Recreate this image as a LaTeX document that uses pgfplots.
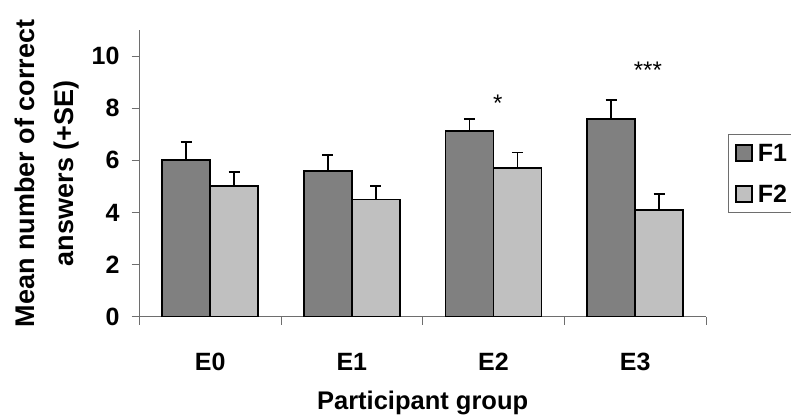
\documentclass[border=0pt]{standalone}
\usepackage{fontspec}
\setmainfont{Liberation Sans}
\usepackage{pgfplots}
\pgfplotsset{compat=1.18}
\definecolor{fone}{RGB}{128,128,128}
\definecolor{ftwo}{RGB}{192,192,192}
\definecolor{axgray}{RGB}{110,110,110}
\newcommand{\bigf}{\bfseries\fontsize{25}{28}\selectfont}
\newcommand{\labf}{\bfseries\fontsize{25.5}{38}\selectfont}
\newcommand{\ylabf}{\bfseries\fontsize{27}{39}\selectfont}
\begin{document}
\begin{tikzpicture}
\begin{axis}[
  scale only axis,
  width=566.7pt, height=286.7pt,
  xmin=-0.5, xmax=3.5, ymin=0, ymax=11,
  axis x line=bottom, axis y line=left,
  axis line style={-, draw=axgray, line width=0.9pt},
  ybar=0pt, bar width=48pt,
  xtick={0,1,2,3}, xticklabels={E0,E1,E2,E3},
  minor xtick={-0.5,0.5,1.5,2.5,3.5},
  ytick={0,2,4,6,8,10},
  tick align=outside,
  major x tick style={draw=none},
  minor x tick style={draw=axgray, line width=0.9pt},
  major y tick style={draw=axgray, line width=0.9pt},
  major tick length=7.6pt, minor tick length=8pt,
  /pgf/number format/assume math mode=true,
  tick label style={font=\bigf},
  xticklabel style={anchor=base, yshift=-46.6pt},
  yticklabel style={anchor=east, inner sep=0pt, xshift=-12pt},
  ylabel={Mean number of correct\\answers (+SE)},
  ylabel style={font=\ylabf, align=center, at={(axis description cs:-0.163,0.5)}, anchor=center, rotate=0},
  xlabel={Participant group},
  xlabel style={font=\labf, at={(axis description cs:0.5,-0.325)}, anchor=base},
  legend style={draw=axgray, line width=0.8pt, at={(1,0.637)}, anchor=north west, xshift=21.7pt,
    font=\bigf, inner xsep=7pt, inner ysep=8pt, row sep=20pt,
    nodes={text height=17pt, text depth=0pt}},
  legend image code/.code={\draw[#1, line width=1.6pt] (0pt,-8pt) rectangle (16pt,8pt); \path[draw=none, fill=none] (0pt,0pt) -- (20pt,0pt);},
  error bars/y dir=plus, error bars/y explicit,
  error bars/error bar style={black, line width=1.8pt},
  error bars/error mark options={black, line width=1.8pt, mark size=5.5pt, rotate=90},
]
\addplot[fill=fone, draw=black, line width=1.8pt] coordinates {
  (0,6.00) +- (0,0.70)
  (1,5.60) +- (0,0.60)
  (2,7.11) +- (0,0.46)
  (3,7.60) +- (0,0.70)
};
\addplot[fill=ftwo, draw=black, line width=1.8pt] coordinates {
  (0,5.00) +- (0,0.56)
  (1,4.50) +- (0,0.50)
  (2,5.70) +- (0,0.60)
  (3,4.09) +- (0,0.61)
};
\legend{F1,F2}
\node[font=\fontsize{24}{28}\selectfont, anchor=base] at (axis cs:2.03,7.88) {*};
\node[font=\fontsize{24}{28}\selectfont, anchor=base] at (axis cs:3.09,9.15) {***};
\end{axis}
\pgfresetboundingbox
\path (-139.3pt,-98.3pt) rectangle (651.7pt,316.7pt);
\end{tikzpicture}
\end{document}
